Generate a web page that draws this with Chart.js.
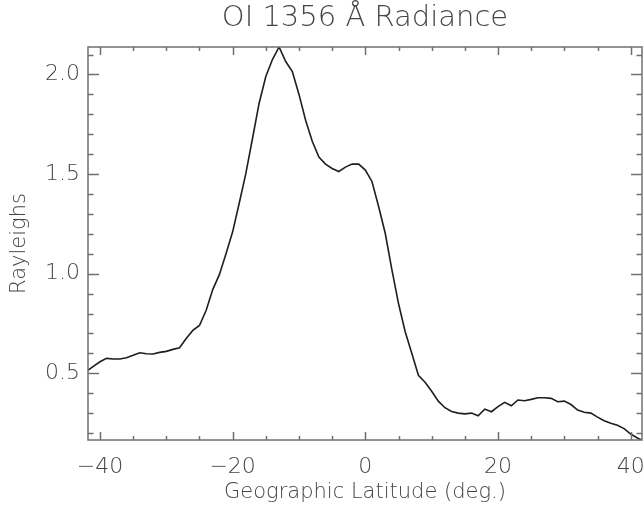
<!DOCTYPE html>
<html>
<head>
<meta charset="utf-8">
<script src="https://cdn.jsdelivr.net/npm/chart.js@4.4.1/dist/chart.umd.min.js"></script>
<style>
  html, body { margin: 0; padding: 0; background: #fff; }
</style>
</head>
<body>
<canvas id="radiance-chart" width="643" height="512"></canvas>
<script>
// latitude (deg) and OI 1356 radiance (Rayleighs)
const latitudes = [
  -42, -41, -40, -39, -38, -37, -36, -35, -34, -33, -32, -31, -30, -29, -28, -27, -26, -25, -24, -23, -22, -21,
  -20, -19, -18, -17, -16, -15, -14, -13, -12, -11, -10, -9, -8, -7, -6, -5, -4, -3, -2, -1,
  0, 1, 2, 3, 4, 5, 6, 7, 8, 9, 10, 11, 12, 13, 14, 15, 16, 17, 18, 19, 20,
  21, 22, 23, 24, 25, 26, 27, 28, 29, 30, 31, 32, 33, 34, 35, 36, 37, 38, 39, 40, 41, 42
];
const radiance = [
  0.51, 0.535, 0.558, 0.575, 0.572, 0.572, 0.578, 0.59, 0.603, 0.598, 0.597, 0.605, 0.61, 0.62, 0.628, 0.675, 0.715, 0.74, 0.815, 0.92, 0.995, 1.10,
  1.21, 1.355, 1.505, 1.68, 1.857, 1.99, 2.075, 2.138, 2.065, 2.015, 1.90, 1.77, 1.665, 1.585, 1.55, 1.528, 1.513, 1.535, 1.55, 1.55,
  1.52, 1.463, 1.337, 1.203, 1.02, 0.85, 0.71, 0.60, 0.49, 0.455, 0.41, 0.36, 0.327, 0.308, 0.30, 0.296, 0.30, 0.287, 0.32, 0.307, 0.333,
  0.354, 0.337, 0.366, 0.362, 0.369, 0.377, 0.377, 0.374, 0.357, 0.36, 0.343, 0.315, 0.304, 0.30, 0.28, 0.262, 0.249, 0.239, 0.222, 0.195, 0.175, 0.16
];

const xTicks = [-40, -20, 0, 20, 40];
const yTicks = [0.5, 1.0, 1.5, 2.0];
const xMinorStep = 5;
const yMinorStep = 0.1;

const FONT = "'DejaVu Sans', sans-serif";
const WEIGHT = 200;
const TEXT = '#454545';
const AXIS = '#707070';

// IDL style box with inward ticks on all four sides
const boxTicks = {
  id: 'boxTicks',
  afterDatasetsDraw(chart) {
    const { ctx, chartArea: a, scales } = chart;
    const xs = scales.x, ys = scales.y;
    ctx.save();
    ctx.strokeStyle = AXIS;
    ctx.lineWidth = 1.5;
    ctx.strokeRect(a.left, a.top, a.right - a.left, a.bottom - a.top);
    ctx.beginPath();
    for (let v = Math.ceil(xs.min / xMinorStep) * xMinorStep; v <= xs.max; v += xMinorStep) {
      const px = Math.round(xs.getPixelForValue(v)) + 0.5;
      const len = xTicks.includes(v) ? 8 : 4;
      ctx.moveTo(px, a.bottom); ctx.lineTo(px, a.bottom - len);
      ctx.moveTo(px, a.top); ctx.lineTo(px, a.top + len);
    }
    for (let i = Math.ceil(ys.min / yMinorStep); i * yMinorStep <= ys.max; i++) {
      const v = +(i * yMinorStep).toFixed(2);
      const py = Math.round(ys.getPixelForValue(v)) + 0.5;
      const len = yTicks.includes(v) ? 11 : 5.5;
      ctx.moveTo(a.left, py); ctx.lineTo(a.left + len, py);
      ctx.moveTo(a.right, py); ctx.lineTo(a.right - len, py);
    }
    ctx.stroke();
    ctx.restore();
  }
};

const ctx = document.getElementById('radiance-chart');
new Chart(ctx, {
  type: 'line',
  data: {
    datasets: [{
      data: latitudes.map((lat, i) => ({ x: lat, y: radiance[i] })),
      borderColor: '#1e1e1e',
      borderWidth: 1.6,
      pointRadius: 0,
      tension: 0,
      fill: false
    }]
  },
  options: {
    responsive: false,
    animation: false,
    events: [],
    layout: { padding: { left: 0, right: 1, top: 0, bottom: 0 } },
    plugins: {
      legend: { display: false },
      tooltip: { enabled: false },
      title: {
        display: true,
        fullSize: false,
        text: 'OI 1356 Å Radiance',
        color: TEXT,
        font: { family: FONT, size: 29, weight: WEIGHT },
        padding: { top: 0.6, bottom: 11.6 }
      }
    },
    scales: {
      x: {
        type: 'linear',
        min: -41.8,
        max: 41.7,
        afterBuildTicks: s => { s.ticks = xTicks.map(v => ({ value: v })); },
        afterFit: s => { s.height = 72; s.paddingLeft = 0; s.paddingRight = 0; },
        grid: { display: false, drawTicks: false },
        border: { display: false },
        ticks: {
          color: TEXT,
          font: { family: FONT, size: 22, weight: WEIGHT },
          padding: 14,
          maxRotation: 0,
          callback: v => (v < 0 ? '\u2212' + Math.abs(v) : String(v))
        },
        title: {
          display: true,
          text: 'Geographic Latitude (deg.)',
          color: TEXT,
          font: { family: FONT, size: 21, weight: WEIGHT },
          padding: { top: 0, bottom: 7 }
        }
      },
      y: {
        type: 'linear',
        min: 0.165,
        max: 2.138,
        afterBuildTicks: s => { s.ticks = yTicks.map(v => ({ value: v })); },
        afterFit: s => { s.width = 88; s.paddingTop = 0; s.paddingBottom = 0; },
        grid: { display: false, drawTicks: false },
        border: { display: false },
        ticks: {
          color: TEXT,
          font: { family: FONT, size: 22, weight: WEIGHT },
          padding: 8,
          callback: v => v.toFixed(1)
        },
        title: {
          display: true,
          text: 'Rayleighs',
          color: TEXT,
          font: { family: FONT, size: 21, weight: WEIGHT },
          padding: { top: 6.5, bottom: 0 }
        }
      }
    }
  },
  plugins: [boxTicks]
});
</script>
</body>
</html>
